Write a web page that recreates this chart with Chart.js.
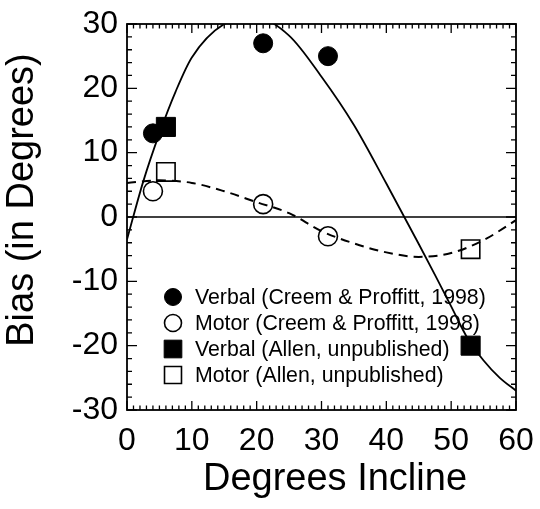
<!DOCTYPE html>
<html>
<head>
<meta charset="utf-8">
<script src="https://cdn.jsdelivr.net/npm/chart.js@4/dist/chart.umd.min.js"></script>
<style>
  html, body { margin: 0; padding: 0; background: #fff; }
  #wrap { width: 540px; height: 509px; position: relative; }
</style>
</head>
<body>
<div id="wrap"><canvas id="c" width="540" height="509"></canvas></div>
<script>
// ---- Data ----
const xTickValues = [0, 10, 20, 30, 40, 50, 60];
const yTickValues = [-30, -20, -10, 0, 10, 20, 30];

const seriesLabels = [
  'Verbal (Creem & Proffitt, 1998)',
  'Motor (Creem & Proffitt, 1998)',
  'Verbal (Allen, unpublished)',
  'Motor (Allen, unpublished)'
];

const verbalCreemX = [4, 21, 31];
const verbalCreemY = [13, 27, 25];
const motorCreemX  = [4, 21, 31];
const motorCreemY  = [4, 2, -3];
const verbalAllenX = [6, 53];
const verbalAllenY = [14, -20];
const motorAllenX  = [6, 53];
const motorAllenY  = [7, -5];

// fitted curves
const verbalFitX = [0, 2.5, 5, 7.5, 10, 15, 20, 25, 30, 35, 40, 45, 47.5, 50, 52.5, 55, 57.5, 60];
const verbalFitY = [-3.5, 5.5, 13, 19.5, 24.8, 30, 31, 28.2, 21.8, 14.3, 5.2, -4.2, -9, -13.9, -18.8, -22.3, -25, -27];
const motorFitX  = [0, 5, 10, 15, 20, 25, 30, 35, 40, 45, 50, 55, 60];
const motorFitY  = [5.3, 5.7, 5.3, 4.0, 2.3, 0.6, -2.2, -4.1, -5.5, -6.2, -5.6, -3.6, -0.5];
const zeroLineX  = [0, 60];
const zeroLineY  = [0, 0];

const pts = (xs, ys) => xs.map((x, i) => ({ x: x, y: ys[i] }));
const FONT = "'Liberation Sans', Arial, Helvetica, sans-serif";

const markerStyles = [
  { pointStyle: 'circle', radius: 9.5, bg: '#000', border: '#000', bw: 1 },
  { pointStyle: 'circle', radius: 9.5, bg: 'rgba(0,0,0,0)', border: '#000', bw: 1.6 },
  { pointStyle: 'rect', radius: 13.5, bg: '#000', border: '#000', bw: 1 },
  { pointStyle: 'rect', radius: 13, bg: 'rgba(0,0,0,0)', border: '#000', bw: 1.6 }
];
const markerData = [
  pts(verbalCreemX, verbalCreemY),
  pts(motorCreemX, motorCreemY),
  pts(verbalAllenX, verbalAllenY),
  pts(motorAllenX, motorAllenY)
];

const datasets = [];
markerData.forEach((d, i) => {
  const m = markerStyles[i];
  datasets.push({
    label: seriesLabels[i],
    data: d,
    showLine: false,
    pointStyle: m.pointStyle,
    pointRadius: m.radius,
    pointHoverRadius: m.radius,
    pointBackgroundColor: m.bg,
    pointBorderColor: m.border,
    pointBorderWidth: m.bw,
    order: 1
  });
});
datasets.push({
  label: 'verbal fit', data: pts(verbalFitX, verbalFitY), showLine: true,
  borderColor: '#000', borderWidth: 1.8, pointRadius: 0,
  cubicInterpolationMode: 'monotone', fill: false, order: 2
});
datasets.push({
  label: 'motor fit', data: pts(motorFitX, motorFitY), showLine: true,
  borderColor: '#000', borderWidth: 2, borderDash: [9, 6], pointRadius: 0,
  cubicInterpolationMode: 'monotone', fill: false, order: 2
});
datasets.push({
  label: 'zero', data: pts(zeroLineX, zeroLineY), showLine: true,
  borderColor: '#000', borderWidth: 1.5, pointRadius: 0, fill: false, order: 3
});

// inside tick marks + frame
const framePlugin = {
  id: 'frame',
  afterDatasetsDraw(chart) {
    const { ctx, chartArea: a, scales: { x, y } } = chart;
    ctx.save();
    ctx.strokeStyle = '#000';
    ctx.lineWidth = 1.3;
    ctx.beginPath();
    for (let v = 0; v <= 60; v += 1) {
      const px = x.getPixelForValue(v);
      const len = v % 10 === 0 ? 9 : 4.5;
      ctx.moveTo(px, a.bottom); ctx.lineTo(px, a.bottom - len);
      ctx.moveTo(px, a.top); ctx.lineTo(px, a.top + len);
    }
    for (let v = -30; v <= 30; v += 2) {
      const py = y.getPixelForValue(v);
      const len = v % 10 === 0 ? 10 : 5;
      ctx.moveTo(a.left, py); ctx.lineTo(a.left + len, py);
      ctx.moveTo(a.right, py); ctx.lineTo(a.right - len, py);
    }
    ctx.stroke();
    ctx.lineWidth = 1.8;
    ctx.strokeRect(a.left, a.top, a.right - a.left, a.bottom - a.top);
    ctx.restore();
  }
};

// legend inside the plot area
const legendPlugin = {
  id: 'insideLegend',
  afterDatasetsDraw(chart) {
    const { ctx, chartArea: a } = chart;
    const mx = a.left + 46, tx = a.left + 68, y0 = a.top + 273, dy = 26;
    const legendRadius = [8.5, 8.5, 12.5, 12];
    ctx.save();
    ctx.font = '21.3px ' + FONT;
    ctx.textBaseline = 'middle';
    ctx.textAlign = 'left';
    seriesLabels.forEach((lab, i) => {
      const m = markerStyles[i];
      const yy = y0 + i * dy;
      ctx.fillStyle = m.bg;
      ctx.strokeStyle = m.border;
      ctx.lineWidth = m.bw;
      Chart.helpers.drawPoint(ctx, { pointStyle: m.pointStyle, radius: legendRadius[i], borderWidth: m.bw, rotation: 0 }, mx, yy);
      ctx.fillStyle = '#000';
      ctx.fillText(lab, tx, yy + 1);
    });
    ctx.restore();
  }
};

// axis titles
const xTitle = 'Degrees Incline';
const yTitle = 'Bias (in Degrees)';
const titlePlugin = {
  id: 'axisTitles',
  afterDraw(chart) {
    const { ctx } = chart;
    ctx.save();
    ctx.fillStyle = '#000';
    ctx.font = '38px ' + FONT;
    ctx.textAlign = 'center';
    ctx.textBaseline = 'alphabetic';
    ctx.fillText(xTitle, 335, 490);
    ctx.translate(33, 200);
    ctx.rotate(-Math.PI / 2);
    ctx.fillText(yTitle, 0, 0);
    ctx.restore();
  }
};

new Chart(document.getElementById('c'), {
  type: 'scatter',
  data: { datasets },
  options: {
    responsive: false,
    animation: false,
    devicePixelRatio: 1,
    layout: { padding: { top: 24, right: 24, left: 0, bottom: 0 } },
    plugins: { legend: { display: false }, tooltip: { enabled: false } },
    scales: {
      x: {
        type: 'linear', min: 0, max: 60,
        afterBuildTicks: (s) => { s.ticks = xTickValues.map(v => ({ value: v })); },
        afterFit: (s) => { s.height = 99; s.paddingLeft = 0; s.paddingRight = 0; },
        grid: { display: false, drawTicks: false },
        border: { display: false },
        ticks: { color: '#000', font: { size: 32, family: FONT }, padding: 12, maxRotation: 0, autoSkip: false }
      },
      y: {
        type: 'linear', min: -30, max: 30,
        afterBuildTicks: (s) => { s.ticks = yTickValues.map(v => ({ value: v })); },
        afterFit: (s) => { s.width = 127; s.paddingTop = 0; s.paddingBottom = 0; },
        grid: { display: false, drawTicks: false },
        border: { display: false },
        ticks: { color: '#000', font: { size: 32, family: FONT }, padding: 9, autoSkip: false }
      }
    }
  },
  plugins: [framePlugin, legendPlugin, titlePlugin]
});
</script>
</body>
</html>
